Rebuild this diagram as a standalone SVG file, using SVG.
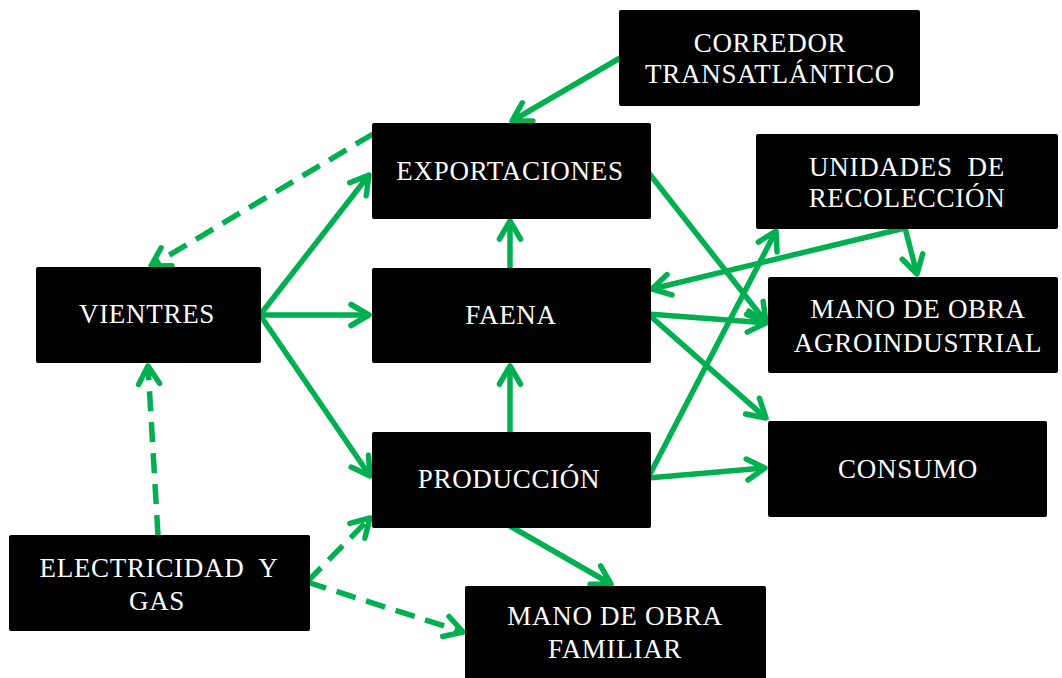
<svg xmlns="http://www.w3.org/2000/svg" width="1062" height="678" viewBox="0 0 1062 678">
<style>
.box{fill:#000;}
.lbl{font-family:"Liberation Serif","Times New Roman",serif;font-size:27px;letter-spacing:0.7px;fill:#fff;text-anchor:middle;}
.c{stroke:#00B050;stroke-width:5.5;fill:none;stroke-linecap:butt;}
.d{stroke-dasharray:20 11;}
</style>
<defs>
<marker id="ah" markerUnits="userSpaceOnUse" orient="auto" refX="0" refY="0" markerWidth="40" markerHeight="40" viewBox="-30 -20 40 40" overflow="visible">
<path d="M-18,-10.5 L0,0 L-18,10.5" fill="none" stroke="#00B050" stroke-width="5.5" stroke-linecap="round" stroke-linejoin="round"/>
</marker>
</defs>
<rect width="1062" height="678" fill="#fff"/>
<g id="connectors">
<line class="c" x1="620" y1="58" x2="512" y2="121" marker-end="url(#ah)"/>
<line class="c d" x1="373" y1="134" x2="151" y2="266" marker-end="url(#ah)"/>
<line class="c" x1="260" y1="315" x2="369" y2="175" marker-end="url(#ah)"/>
<line class="c" x1="260" y1="315" x2="369" y2="315" marker-end="url(#ah)"/>
<line class="c" x1="260" y1="315" x2="370" y2="476" marker-end="url(#ah)"/>
<line class="c" x1="510" y1="268" x2="510" y2="221" marker-end="url(#ah)"/>
<line class="c" x1="510" y1="432" x2="510" y2="366" marker-end="url(#ah)"/>
<line class="c" x1="648" y1="172" x2="766" y2="322" marker-end="url(#ah)"/>
<line class="c" x1="905" y1="228" x2="652" y2="289" marker-end="url(#ah)"/>
<line class="c" x1="905" y1="228" x2="917" y2="274" marker-end="url(#ah)"/>
<line class="c" x1="648" y1="314" x2="766" y2="323" marker-end="url(#ah)"/>
<line class="c" x1="648" y1="314" x2="766" y2="418" marker-end="url(#ah)"/>
<line class="c" x1="648" y1="478" x2="776" y2="231" marker-end="url(#ah)"/>
<line class="c" x1="648" y1="478" x2="765" y2="468" marker-end="url(#ah)"/>
<line class="c" x1="510" y1="526" x2="611" y2="584" marker-end="url(#ah)"/>
<line class="c d" x1="158" y1="535" x2="148" y2="366" marker-end="url(#ah)"/>
<line class="c d" x1="307" y1="582" x2="370" y2="518" marker-end="url(#ah)"/>
<line class="c d" x1="307" y1="582" x2="463" y2="632" marker-end="url(#ah)"/>
</g>
<g id="corredor">
<rect class="box" x="619" y="10" width="301" height="96" rx="2"/>
<text class="lbl" x="770" y="52">CORREDOR</text>
<text class="lbl" x="770" y="83">TRANSATLÁNTICO</text>
</g>
<g id="exportaciones">
<rect class="box" x="372" y="123" width="279" height="96" rx="2"/>
<text class="lbl" x="510" y="180">EXPORTACIONES</text>
</g>
<g id="unidades">
<rect class="box" x="756" y="134" width="302" height="95" rx="2"/>
<text class="lbl" x="907" y="176" xml:space="preserve">UNIDADES  DE</text>
<text class="lbl" x="907" y="207">RECOLECCIÓN</text>
</g>
<g id="vientres">
<rect class="box" x="36" y="267" width="225" height="96" rx="2"/>
<text class="lbl" x="147" y="323">VIENTRES</text>
</g>
<g id="faena">
<rect class="box" x="372" y="268" width="279" height="95" rx="2"/>
<text class="lbl" x="511" y="324">FAENA</text>
</g>
<g id="agroindustrial">
<rect class="box" x="768" y="277" width="290" height="96" rx="2"/>
<text class="lbl" x="918" y="318">MANO DE OBRA</text>
<text class="lbl" x="918" y="352">AGROINDUSTRIAL</text>
</g>
<g id="consumo">
<rect class="box" x="768" y="421" width="279" height="96" rx="2"/>
<text class="lbl" x="908" y="478">CONSUMO</text>
</g>
<g id="produccion">
<rect class="box" x="372" y="432" width="279" height="96" rx="2"/>
<text class="lbl" x="509" y="488">PRODUCCIÓN</text>
</g>
<g id="electricidad">
<rect class="box" x="9" y="535" width="301" height="96" rx="2"/>
<text class="lbl" x="159" y="577" xml:space="preserve">ELECTRICIDAD  Y</text>
<text class="lbl" x="157" y="610">GAS</text>
</g>
<g id="familiar">
<rect class="box" x="465" y="586" width="301" height="100" rx="2"/>
<text class="lbl" x="615" y="625">MANO DE OBRA</text>
<text class="lbl" x="615" y="658">FAMILIAR</text>
</g>
</svg>
